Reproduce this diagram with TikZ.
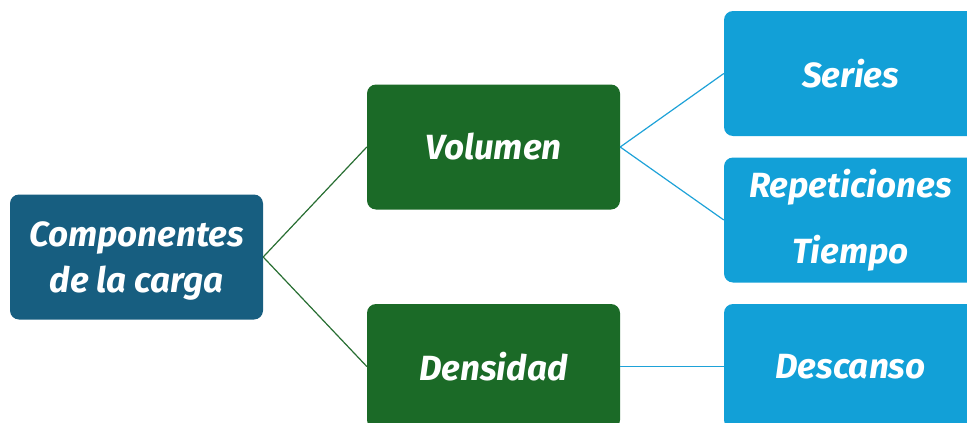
\documentclass[tikz,border=0pt]{standalone}
\usepackage{fontspec}
\setmainfont{Fira Sans}
\begin{document}
\begin{tikzpicture}[x=1pt,y=-1pt,
  box/.style={rounded corners=9pt, minimum width=253pt, minimum height=125pt, inner sep=0pt,
    text=white, align=center, font=\fontsize{35}{46}\selectfont\bfseries\itshape},
  rootbox/.style={box, fill=rootblue},
  greenbox/.style={box, fill=boxgreen},
  bluebox/.style={box, fill=boxblue},
  gline/.style={draw=linegreen, line width=1.2pt},
  bline/.style={draw=lineblue, line width=1.2pt}]
\definecolor{rootblue}{RGB}{23,94,128}
\definecolor{boxgreen}{RGB}{27,106,39}
\definecolor{boxblue}{RGB}{18,160,215}
\definecolor{linegreen}{RGB}{40,110,50}
\definecolor{lineblue}{RGB}{30,162,216}
\useasboundingbox (0,0) rectangle (967,423);
\clip (0,0) rectangle (967,423);
\node[rootbox, text depth=0pt] (root) at (136.5,257) {Componentes\\de la carga};
\node[greenbox] (vol) at (493.5,147) {Volumen};
\node[greenbox] (den) at (493.5,366.5) {Densidad};
\node[bluebox] (ser) at (850.5,73.5) {Series};
\node[bluebox, font=\fontsize{35}{66}\selectfont\bfseries\itshape] (rep) at (850.5,220) {Repeticiones\\Tiempo};
\node[bluebox] (des) at (850.5,366.5) {Descanso};
\draw[gline] (root.east) -- (vol.west);
\draw[gline] (root.east) -- (den.west);
\draw[bline] (vol.east) -- (ser.west);
\draw[bline] (vol.east) -- (rep.west);
\draw[bline] (den.east) -- (des.west);
\end{tikzpicture}
\end{document}
